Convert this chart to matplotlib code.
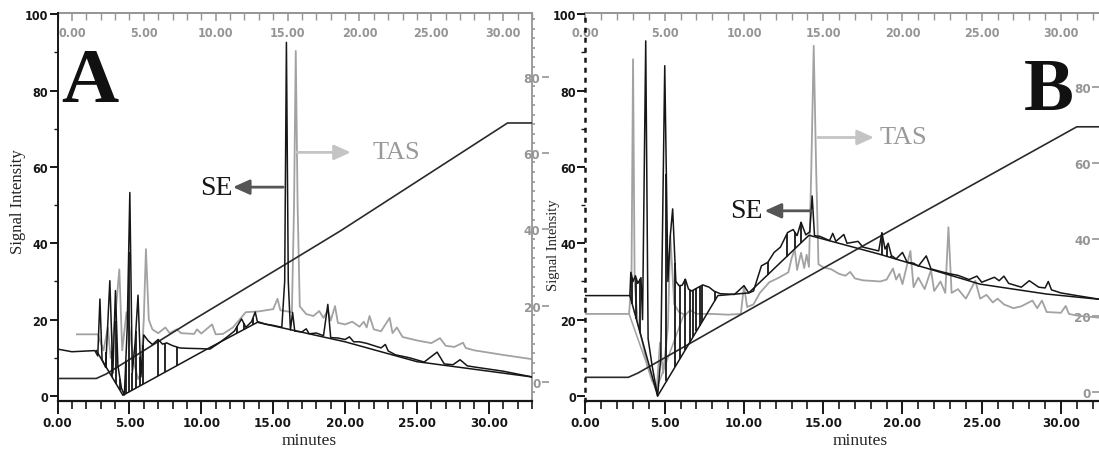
import numpy as np
import matplotlib
matplotlib.use("Agg")
import matplotlib.pyplot as plt
from matplotlib.ticker import MultipleLocator

# ---------------- chromatogram data (minutes, signal) ----------------
MINUTE_TICKS = [0, 5, 10, 15, 20, 25, 30]
LEFT_TICKS = [0, 20, 40, 60, 80, 100]
GREY_TICKS = [0, 20, 40, 60, 80, 100]

# Panel A - SE trace (left scale)
A_SE_T = [0, 1.0, 2.6, 2.8, 2.95, 3.1, 3.35, 3.64, 3.85, 4.03, 4.2, 4.45, 4.65, 4.85,
          5.03, 5.2, 5.4, 5.6, 5.8, 6.0, 6.3, 6.6, 7.0, 7.3, 7.6, 8.0, 8.5, 9.0, 10.0,
          10.6, 11.2, 11.8, 12.3, 12.8, 13.1, 13.5, 13.75, 13.9, 14.5, 15.0, 15.6, 15.8,
          15.92, 16.05, 16.2, 16.35, 16.5, 17.0, 17.3, 17.5, 18.0, 18.5, 18.8, 19.0,
          19.5, 20.0, 20.3, 20.6, 21.0, 21.5, 22.0, 22.5, 22.8, 23.0, 23.5, 24.5,
          25.5, 26.4, 26.9, 27.5, 28.0, 28.5, 29.0, 31.0, 33.0]
A_SE_V = [12.3, 11.6, 11.9, 10.5, 25.4, 9.5, 7.5, 30.2, 6.0, 27.6, 8.0, 2.0, 0.3, 18.0,
          53.3, 6.0, 14.0, 26.4, 5.0, 16.0, 14.5, 13.5, 14.8, 13.6, 13.9, 13.2, 12.6, 12.5,
          12.4, 12.3, 13.8, 15.5, 17.0, 20.2, 18.0, 19.5, 22.0, 19.5, 18.8, 18.5, 18.0,
          30.0, 92.6, 30.0, 17.3, 21.9, 17.0, 16.8, 17.6, 16.3, 16.5, 15.8, 24.0, 15.3,
          15.2, 14.8, 15.5, 14.2, 14.2, 13.8, 13.2, 12.6, 13.5, 11.8, 10.8, 10.0,
          8.9, 11.5, 8.4, 8.2, 9.5, 7.9, 7.6, 6.5, 5.0]
A_BASE_T = [2.7, 4.55, 10.4, 13.9, 20.0, 25.0, 33.0]
A_BASE_V = [11.9, 0.2, 12.3, 19.3, 14.2, 9.0, 5.0]
A_DROP_T = [3.1, 3.4, 3.8, 4.1, 4.35, 4.75, 4.95, 5.2, 5.45, 5.75, 5.95, 7.0, 7.45,
            8.3, 12.5, 12.95, 13.6]

# Panel A - TAS trace (grey right scale)
A_TAS_T = [1.35, 2.8, 3.0, 3.2, 3.5, 3.7, 4.0, 4.3, 4.5, 4.8, 5.0, 5.3, 5.6, 5.8, 6.0,
           6.15, 6.35, 6.6, 7.0, 7.5, 7.8, 8.3, 8.6, 9.5, 9.7, 10.0, 10.75, 11.0, 11.5,
           12.2, 13.1, 14.0, 15.0, 15.3, 15.5, 16.3, 16.45, 16.57, 16.7, 16.85, 17.3,
           17.8, 18.2, 18.5, 18.8, 19.0, 19.3, 19.5, 20.0, 20.5, 21.0, 21.3, 21.5, 21.7,
           22.0, 22.5, 23.1, 23.3, 23.6, 24.0, 25.0, 26.0, 26.6, 27.0, 27.6, 28.2,
           28.4, 29.0, 31.0, 33.0]
A_TAS_V = [12.5, 12.5, 10.3, 8.3, 14.3, 6.3, 16.3, 29.5, 8.3, 18.3, 14.3, 5.3, 0.8, 2.3,
           16.3, 34.8, 16.3, 13.8, 12.8, 14.3, 12.8, 13.8, 12.8, 12.6, 13.8, 12.7, 15.1,
           12.5, 12.6, 14.3, 18.3, 18.5, 19.1, 21.8, 18.8, 18.3, 46.0, 86.7, 46.0, 19.8,
           17.8, 17.3, 18.6, 16.8, 18.8, 16.1, 19.9, 15.5, 15.1, 15.8, 14.5, 15.8, 14.3,
           17.3, 13.8, 13.3, 16.8, 12.8, 14.3, 11.8, 10.9, 10.2, 11.5, 9.5, 9.2, 10.3,
           8.9, 8.3, 7.1, 6.0]

# Panel A - solvent gradient
A_GRAD_T = [0, 2.7, 3.4, 9.2, 15.9, 19.7, 31.3, 33.0]
A_GRAD_V = [4.6, 4.6, 5.8, 19.4, 34.6, 43.3, 71.5, 71.5]

# Panel B - SE trace (left scale)
B_SE_T = [0, 2.8, 2.86, 3.0, 3.15, 3.3, 3.5, 3.6, 3.8, 3.95, 4.2, 4.55, 4.75, 5.0, 5.2,
          5.35, 5.5, 5.7, 5.9, 6.1, 6.3, 6.5, 6.7, 7.0, 7.4, 7.8, 8.1, 8.5, 9.0, 9.4,
          10.0, 10.3, 10.6, 11.1, 11.5, 11.9, 12.3, 12.75, 13.1, 13.35, 13.6, 13.9,
          14.15, 14.3, 14.45, 14.8, 15.4, 15.6, 15.8, 16.3, 16.5, 17.2, 17.5, 18.0,
          18.5, 18.7, 18.9, 19.1, 19.3, 19.6, 20.0, 20.3, 20.7, 21.0, 21.5, 21.8,
          22.5, 23.0, 23.5, 24.2, 24.7, 25.0, 25.8, 26.1, 26.4, 26.7, 27.5, 28.0,
          28.6, 29.0, 29.2, 29.4, 30.0, 31.0, 32.5]
B_SE_V = [26.3, 26.3, 32.4, 30.0, 31.5, 29.5, 31.0, 20.0, 93.0, 15.0, 8.0, 0.0, 10.0,
          86.5, 30.0, 42.0, 49.0, 30.0, 28.9, 29.0, 30.6, 28.0, 27.5, 28.2, 29.1, 28.5,
          27.5, 26.8, 26.7, 26.6, 28.9, 27.0, 27.5, 34.1, 35.0, 37.6, 39.0, 42.8, 43.6,
          42.0, 45.5, 42.2, 43.0, 52.4, 42.0, 41.8, 40.7, 42.6, 40.5, 42.3, 40.0, 40.5,
          39.0, 38.5, 38.0, 42.8, 38.5, 40.0, 36.8, 35.9, 37.6, 35.0, 34.8, 34.0, 36.7,
          33.3, 32.5, 32.0, 31.6, 30.5, 31.4, 29.8, 31.1, 30.2, 31.4, 29.5, 28.5, 30.2,
          28.5, 28.3, 30.0, 27.8, 27.0, 26.3, 25.3]
B_BASE_T = [2.8, 4.55, 8.35, 10.3, 14.1, 18.5, 22.8, 24.9, 27.0, 29.1, 32.5]
B_BASE_V = [26.3, 0.0, 26.3, 27.0, 42.1, 37.2, 31.9, 29.3, 28.0, 26.7, 25.3]
B_DROP_T = [2.95, 3.2, 3.45, 5.1, 5.65, 5.95, 6.3, 6.6, 6.8, 7.0, 7.2, 7.35, 8.15,
            11.5, 12.7, 13.2, 13.6, 18.7, 19.0, 19.3]

# Panel B - TAS trace (grey right scale)
B_TAS_T = [0, 2.75, 2.9, 3.0, 3.1, 3.3, 3.6, 3.9, 4.2, 4.5, 4.7, 4.9, 5.2, 5.35, 5.6,
           5.9, 6.3, 6.6, 7.0, 8.0, 9.0, 9.8, 10.0, 10.2, 10.6, 11.0, 11.6, 12.2, 12.8,
           13.0, 13.2, 13.35, 13.6, 13.8, 13.95, 14.1, 14.25, 14.4, 14.55, 14.7, 15.0,
           15.5, 16.0, 16.4, 16.7, 17.0, 17.5, 18.6, 19.0, 19.4, 19.6, 19.8, 20.0, 20.5,
           20.7, 21.0, 21.4, 21.8, 22.0, 22.4, 22.7, 22.9, 23.1, 23.5, 24.0, 24.6, 24.9,
           25.3, 25.7, 26.0, 26.4, 27.0, 27.5, 28.2, 28.5, 28.8, 29.1, 30.0, 30.3,
           30.5, 31.1, 32.5]
B_TAS_V = [20.5, 20.5, 29.0, 87.2, 29.0, 18.0, 13.0, 7.0, 3.0, 1.0, 13.0, 5.0, 17.0,
           41.0, 23.0, 21.0, 20.2, 21.5, 20.5, 20.5, 20.3, 20.5, 27.9, 22.3, 23.0, 26.0,
           28.8, 30.0, 31.4, 35.0, 37.5, 32.0, 36.5, 32.5, 36.0, 32.8, 59.0, 90.7, 59.0,
           33.5, 32.7, 32.2, 31.0, 30.5, 31.5, 29.8, 29.3, 29.0, 29.5, 32.4, 29.5, 31.0,
           28.3, 37.0, 27.5, 30.0, 27.0, 32.0, 26.5, 29.0, 26.0, 43.2, 26.0, 27.0, 24.5,
           29.2, 24.5, 25.5, 23.5, 24.5, 23.0, 22.0, 22.5, 24.0, 22.0, 24.0, 21.0, 20.8,
           22.6, 20.5, 20.0, 19.5]
B_TAS_BASE_T = [2.75, 4.45, 6.2]
B_TAS_BASE_V = [20.5, 0.5, 20.3]

# Panel B - solvent gradient
B_GRAD_T = [0, 2.7, 3.3, 9.1, 19.6, 31.0, 32.5]
B_GRAD_V = [4.9, 4.9, 6.0, 19.7, 44.2, 70.5, 70.5]

# ---------------- styling ----------------
W, H = 1099, 452
fig = plt.figure(figsize=(W / 100, H / 100), dpi=100)

INK = "#161616"
TAS_GREY = "#a2a2a2"
AX_GREY = "#959595"
TICKFONT = dict(fontfamily=["DejaVu Sans"], fontstretch="condensed", fontweight="bold")
SERIF = ["Liberation Serif", "DejaVu Serif"]
LEFT_YLIM = (-1.3, 100.3)


def axes_px(left, top, right, bottom):
    return fig.add_axes([left / W, 1 - bottom / H, (right - left) / W, (bottom - top) / H])


def style_main(ax, xmax, top_shift, dotted_left):
    ax.set_xticks(MINUTE_TICKS)
    ax.set_xticklabels([f"{v:.2f}" for v in MINUTE_TICKS], fontsize=9.5, color=INK,
                       **TICKFONT)
    ax.xaxis.set_minor_locator(MultipleLocator(1))
    ax.tick_params(axis="x", which="major", length=9, width=1.4, pad=2, color=INK)
    ax.tick_params(axis="x", which="minor", length=6, width=1.2, color=INK)
    ax.set_yticks(LEFT_TICKS)
    ax.set_yticklabels([str(v) for v in LEFT_TICKS], fontsize=9, color=INK, **TICKFONT)
    ax.yaxis.set_minor_locator(MultipleLocator(10))
    ax.tick_params(axis="y", which="major", length=6, width=1.4, pad=1, color=INK)
    ax.tick_params(axis="y", which="minor", length=3, width=1.0, color=INK)
    ax.set_xlim(0, xmax)
    ax.set_ylim(*LEFT_YLIM)
    ax.spines["bottom"].set_linewidth(1.6)
    ax.spines["bottom"].set_color(INK)
    ax.spines["left"].set_color(INK)
    ax.spines["left"].set_linewidth(1.4)
    if dotted_left:
        ax.spines["left"].set_linestyle((0, (1, 3)))
        ax.spines["left"].set_linewidth(1.8)
    ax.spines["right"].set_visible(False)
    ax.spines["top"].set_visible(False)

    top = ax.secondary_xaxis("top", functions=(lambda x: x - top_shift,
                                                lambda x: x + top_shift))
    top.set_xticks(MINUTE_TICKS)
    top.set_xticklabels([f"{v:.2f}" for v in MINUTE_TICKS], fontsize=9, color=AX_GREY,
                        **TICKFONT)
    top.xaxis.set_minor_locator(MultipleLocator(1))
    top.tick_params(axis="x", which="both", direction="in", color=AX_GREY, pad=-19)
    top.tick_params(axis="x", which="major", length=6, width=1.1)
    top.tick_params(axis="x", which="minor", length=5, width=1.0)
    top.spines["top"].set_color(AX_GREY)
    top.spines["top"].set_linewidth(1.4)
    return top


def style_grey(ax2, offset, label_pos, show_spine):
    for side in ("top", "bottom"):
        ax2.spines[side].set_visible(False)
    ax2.spines["left"].set_position(("axes", label_pos))
    ax2.spines["left"].set_visible(False)
    ax2.spines["right"].set_visible(show_spine)
    ax2.spines["right"].set_color(AX_GREY)
    ax2.spines["right"].set_linewidth(1.3)
    ax2.set_yticks(GREY_TICKS)
    ax2.set_yticklabels([str(v) for v in GREY_TICKS], fontsize=9.5, color=AX_GREY,
                        **TICKFONT)
    ax2.yaxis.set_minor_locator(MultipleLocator(2.5))
    ax2.tick_params(axis="y", which="major", left=True, right=False,
                    labelleft=True, labelright=False, length=5, width=1.2,
                    direction="out", color=AX_GREY, pad=1)
    ax2.tick_params(axis="y", which="minor", left=False, right=show_spine,
                    length=2, width=1.2, color=AX_GREY)
    ax2.set_ylim(LEFT_YLIM[0] - offset, LEFT_YLIM[1] - offset)


def draw_panel(ax, ax2, se_t, se_v, base_t, base_v, drop_t, tas_t, tas_v, grad_t, grad_v):
    ax.plot(grad_t, grad_v, color="#2a2a2a", lw=1.2, zorder=3)
    ax.plot(base_t, base_v, color=INK, lw=1.1, zorder=3)
    sig = np.interp(drop_t, se_t, se_v)
    base = np.interp(drop_t, base_t, base_v)
    ax.vlines(drop_t, np.minimum(sig, base), np.maximum(sig, base), color=INK, lw=1.3, zorder=3)
    ax2.plot(tas_t, tas_v, color=TAS_GREY, lw=1.3, zorder=2)
    ax.plot(se_t, se_v, color=INK, lw=1.1, zorder=4)


def arrow(ax, x0, x1, y, color):
    ax.annotate("", xy=(x1, y), xytext=(x0, y),
                arrowprops=dict(arrowstyle="-|>,head_length=1.0,head_width=0.45",
                                color=color, lw=2.0, shrinkA=0, shrinkB=0), zorder=6)


# ---------------- panel A ----------------
axA = axes_px(57.5, 14, 532, 402)
style_main(axA, 33.0, 1.0, False)
axA2 = axA.twinx()
draw_panel(axA, axA2, A_SE_T, A_SE_V, A_BASE_T, A_BASE_V, A_DROP_T,
           A_TAS_T, A_TAS_V, A_GRAD_T, A_GRAD_V)
style_grey(axA2, 3.66, 1.035, True)
axA2.set_zorder(axA.get_zorder() - 1)
axA.patch.set_visible(False)

arrow(axA, 15.7, 12.2, 54.7, "#555555")
axA.text(12.15, 54.7, "SE", ha="right", va="center", fontsize=20,
         fontfamily=SERIF, color=INK)
arrow(axA, 16.65, 20.4, 63.8, "#c4c4c4")
axA.text(21.9, 63.8, "TAS", ha="left", va="center", fontsize=19,
         fontfamily=SERIF, color="#9a9a9a")

# ---------------- panel B ----------------
axB = axes_px(585.5, 14, 1099, 402)
style_main(axB, 32.4, 0.0, True)
axB2 = axB.twinx()
draw_panel(axB, axB2, B_SE_T, B_SE_V, B_BASE_T, B_BASE_V, B_DROP_T,
           B_TAS_T, B_TAS_V, B_GRAD_T, B_GRAD_V)
axB2.plot(B_TAS_BASE_T, B_TAS_BASE_V, color=TAS_GREY, lw=1.1, zorder=2)
style_grey(axB2, 1.0, 1.0, False)
axB2.set_zorder(axB.get_zorder() - 1)
axB.patch.set_visible(False)

arrow(axB, 14.25, 11.3, 48.5, "#555555")
axB.text(11.2, 48.5, "SE", ha="right", va="center", fontsize=20,
         fontfamily=SERIF, color=INK)
arrow(axB, 14.66, 18.2, 67.7, "#c4c4c4")
axB.text(18.55, 67.7, "TAS", ha="left", va="center", fontsize=19,
         fontfamily=SERIF, color="#9a9a9a")

# ---------------- labels ----------------
fig.text(61 / W, 1 - 102 / H, "A", fontsize=57, fontweight="bold",
         fontfamily=SERIF, ha="left", va="baseline", color="#111111")
fig.text(1024 / W, 1 - 110 / H, "B", fontsize=54, fontweight="bold",
         fontfamily=SERIF, ha="left", va="baseline", color="#111111")

fig.text(18 / W, 1 - 202 / H, "Signal Intensity", rotation=90, fontsize=12,
         fontfamily=SERIF, ha="center", va="center", color="#222222")
fig.text(553.5 / W, 1 - 245 / H, "Signal Intensity", rotation=90, fontsize=10.5,
         fontfamily=SERIF, ha="center", va="center", color="#222222")
fig.text(309 / W, 1 - 441 / H, "minutes", fontsize=12.5, fontfamily=SERIF,
         ha="center", va="center", color="#222222")
fig.text(860 / W, 1 - 441 / H, "minutes", fontsize=12.5, fontfamily=SERIF,
         ha="center", va="center", color="#222222")

fig.savefig("out.png", dpi=100)
